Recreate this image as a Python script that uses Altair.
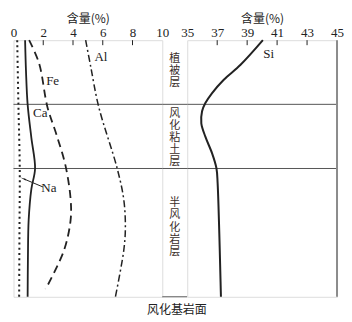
import altair as alt
import pandas as pd

# ---- data (depth in % of profile, 0 = top, 100 = weathered bedrock surface) ----
na_depth = [0, 25, 50, 75, 100]
na_val = [0.25, 0.33, 0.42, 0.40, 0.38]

ca_depth = [0, 12, 25, 38, 50, 58, 70, 85, 100]
ca_val = [0.78, 0.84, 0.95, 1.2, 1.45, 1.2, 1.02, 0.97, 0.95]

fe_depth = [0, 9, 26, 37, 49, 62, 70, 82, 97]
fe_val = [1.05, 1.72, 2.28, 2.9, 3.5, 3.84, 3.84, 3.39, 2.16]

al_depth = [0, 10, 26, 50, 62, 73, 82, 100]
al_val = [4.85, 5.18, 5.73, 6.97, 7.41, 7.52, 7.41, 6.85]

si_depth = [0, 9.6, 15.4, 20.6, 24.5, 27.7, 32.4, 37.6, 44.1, 49.9, 55.8, 100]
si_val = [40.05, 38.56, 37.44, 36.66, 36.21, 35.99, 35.94, 36.21, 36.66, 36.95, 37.03, 37.25]

left_ticks = [0, 2, 4, 6, 8, 10]
right_ticks = [35, 37, 39, 41, 43, 45]
left_inner_ticks = [2, 4, 6, 8]
right_inner_ticks = [37, 39, 41, 43]

layer_bounds = [25, 50]
layer_names = ["植被层", "风化粘土层", "半风化岩层"]
layer_centers = [12, 38, 73]
char_step = 4.7  # depth units between stacked characters

left_labels = ["Al", "Fe", "Ca", "Na"]
left_label_x = [5.88, 2.63, 1.8, 2.38]
left_label_depth = [6.6, 16, 28.5, 57.6]

si_label = ["Si"]
si_label_x = [40.44]
si_label_depth = [5.2]

arrow_x = [1.98, 0.71]
arrow_depth = [57.2, 54.1]

W_L, W_M, W_R, H = 149, 25, 150, 257
SERIF = "Liberation Serif"
CJK = "Noto Sans CJK SC"
INK = "#222222"

yscale = alt.Scale(domain=[0, 100], reverse=True, nice=False, zero=False)
ynone = alt.Y("d:Q", scale=yscale, axis=None)


def df(depth, vals):
    return pd.DataFrame({"d": depth, "v": vals})


def xenc(domain, ticks):
    return alt.X(
        "v:Q",
        scale=alt.Scale(domain=domain, nice=False, zero=False),
        axis=alt.Axis(
            orient="top", title="含量(%)", values=ticks, ticks=False, domain=False,
            grid=False, labelFlush=False, labelOverlap=False, labelFont=SERIF,
            labelFontSize=13, labelColor=INK, labelPadding=1, titleFont=CJK,
            titleFontSize=12, titleFontWeight="normal", titleColor=INK, titlePadding=1,
        ),
    )


def curve(depth, vals, domain, ticks, dash=None, width=1.8):
    kw = dict(interpolate="catmull-rom", color=INK, strokeWidth=width)
    if dash:
        kw["strokeDash"] = dash
        kw["strokeCap"] = "butt"
    return alt.Chart(df(depth, vals)).mark_line(**kw).encode(
        x=xenc(domain, ticks), y=ynone, order="d:Q"
    )


def inner_ticks(ticks, domain, all_ticks):
    return alt.Chart(pd.DataFrame({"v": ticks})).mark_rule(color=INK, strokeWidth=1).encode(
        x=xenc(domain, all_ticks), y=alt.value(0), y2=alt.value(5)
    )


def bounds_rules(width):
    return alt.Chart(pd.DataFrame({"d": layer_bounds})).mark_rule(color="#555555", strokeWidth=1).encode(
        y=ynone, x=alt.value(0), x2=alt.value(width)
    )


LD = [0, 10]
RD = [35, 45]

left = alt.layer(
    bounds_rules(W_L),
    inner_ticks(left_inner_ticks, LD, left_ticks),
    curve(na_depth, na_val, LD, left_ticks, dash=[2, 3.2], width=2),
    curve(ca_depth, ca_val, LD, left_ticks, width=1.8),
    curve(fe_depth, fe_val, LD, left_ticks, dash=[8, 5], width=1.8),
    curve(al_depth, al_val, LD, left_ticks, dash=[7, 3, 2, 3], width=1.5),
    alt.Chart(pd.DataFrame({"v": left_label_x, "d": left_label_depth, "t": left_labels}))
    .mark_text(font=SERIF, fontSize=13, color=INK)
    .encode(x=xenc(LD, left_ticks), y=ynone, text="t:N"),
    alt.Chart(df(arrow_depth, arrow_x)).mark_line(color=INK, strokeWidth=1)
    .encode(x=xenc(LD, left_ticks), y=ynone, order="d:Q"),
    alt.Chart(df(arrow_depth[1:], arrow_x[1:])).mark_point(
        shape="wedge", angle=293, size=45, filled=True, color=INK, opacity=1
    ).encode(x=xenc(LD, left_ticks), y=ynone),
).properties(width=W_L, height=H)

# stacked vertical characters for the layer names
rows = []
for name, c in zip(layer_names, layer_centers):
    n = len(name)
    for i, ch in enumerate(name):
        rows.append({"d": c + (i - (n - 1) / 2) * char_step, "t": ch})
chars = pd.DataFrame(rows)

middle = alt.layer(
    alt.Chart(pd.DataFrame({"d": layer_bounds + [100]})).mark_rule(color="#555555", strokeWidth=1)
    .encode(y=ynone, x=alt.value(0), x2=alt.value(W_M)),
    alt.Chart(chars)
    .mark_text(font=CJK, fontSize=11, color="#3a2e2a", baseline="middle")
    .encode(y=ynone, x=alt.value(W_M / 2), text="t:N"),
).properties(width=W_M, height=H, view=alt.ViewBackground(strokeWidth=0))

right = alt.layer(
    bounds_rules(W_R),
    inner_ticks(right_inner_ticks, RD, right_ticks),
    curve(si_depth, si_val, RD, right_ticks, width=2),
    alt.Chart(pd.DataFrame({"v": si_label_x, "d": si_label_depth, "t": si_label}))
    .mark_text(font=SERIF, fontSize=13, color=INK)
    .encode(x=xenc(RD, right_ticks), y=ynone, text="t:N"),
    alt.Chart(pd.DataFrame({"v": [45]})).mark_rule(color="#8c8c8c", strokeWidth=2)
    .encode(x=xenc(RD, right_ticks), y=alt.value(0), y2=alt.value(H)),
).properties(width=W_R, height=H)

chart = alt.hconcat(
    left, middle, right, spacing=0, bounds="flush",
    title=alt.TitleParams("风化基岩面", orient="bottom", anchor="middle", font=CJK,
                          fontSize=12, fontWeight="normal", color=INK, offset=4),
).properties(
    padding={"left": 1.5, "top": 3, "right": 0, "bottom": 0}
).configure_view(stroke="#333333", strokeWidth=1).configure(background="white")

chart.save("out.html", embed_options={"renderer": "svg", "actions": False})
